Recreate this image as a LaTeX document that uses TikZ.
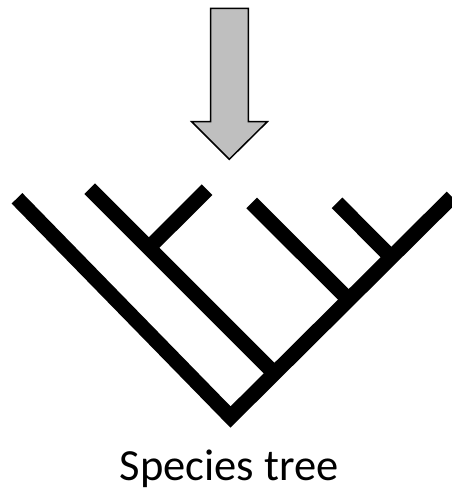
\documentclass[tikz,border=0pt]{standalone}
\usepackage{fontspec}
\setmainfont{Carlito}
\begin{document}
\begin{tikzpicture}[x=1pt,y=-1pt,
  branch/.style={line width=15pt,line cap=butt,line join=miter,draw=black},
  bigarrow/.style={fill=black!25,draw=black,line width=1.5pt,line join=miter},
  caption/.style={font=\fontsize{44.5}{52}\selectfont,anchor=base,inner sep=0pt}]
\useasboundingbox (0,0) rectangle (452,490);
% arrow
\draw[bigarrow] (210.7,8.3) -- (248.3,8.3) -- (248.3,121.7) -- (267.3,121.7)
  -- (229.3,159.3) -- (191.7,121.7) -- (210.7,121.7) -- cycle;
% tree coordinates
\coordinate (A) at (17,198.3);
\coordinate (root) at (230.5,417);
\coordinate (E) at (452,197);
\coordinate (B) at (89.7,188.7);
\coordinate (nB) at (274,373);
\coordinate (C) at (207,189.7);
\coordinate (nC) at (148.8,247.8);
\coordinate (D) at (251.7,203);
\coordinate (nD) at (348,299);
\coordinate (F) at (337,202.8);
\coordinate (nF) at (391,257);
\draw[branch] (A) -- (root) -- (E);
\draw[branch] (B) -- (nB);
\draw[branch] (C) -- (nC);
\draw[branch] (D) -- (nD);
\draw[branch] (F) -- (nF);
\node[caption] (label) at (229,480) {Species tree};
\end{tikzpicture}
\end{document}
